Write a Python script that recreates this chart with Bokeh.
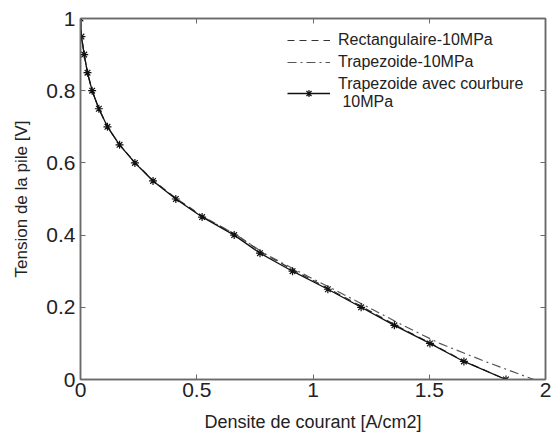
import math
from bokeh.plotting import figure
from bokeh.models import Range1d, LinearAxis, FixedTicker, Legend, LegendItem
from bokeh.embed import file_html
from bokeh.resources import INLINE

# ---- data ----
V_levels = [1.0, 0.95, 0.9, 0.85, 0.8, 0.75, 0.7, 0.65, 0.6, 0.55, 0.5,
            0.45, 0.4, 0.35, 0.3, 0.25, 0.2, 0.15, 0.1, 0.05, 0.0]
J_rect = [0.0, 0.004, 0.016, 0.03, 0.05, 0.079, 0.116, 0.168, 0.236, 0.315, 0.415,
          0.53, 0.672, 0.785, 0.925, 1.072, 1.215, 1.357, 1.507, 1.652, 1.83]
J_trap = [0.0, 0.004, 0.016, 0.03, 0.05, 0.079, 0.116, 0.168, 0.235, 0.313, 0.412,
          0.527, 0.672, 0.788, 0.935, 1.088, 1.238, 1.387, 1.545, 1.74, 1.95]
J_curv = [0.0, 0.004, 0.016, 0.03, 0.05, 0.079, 0.116, 0.168, 0.234, 0.312, 0.41,
          0.523, 0.661, 0.772, 0.912, 1.064, 1.207, 1.35, 1.503, 1.649, 1.83]

x_ticks = [0, 0.5, 1, 1.5, 2]
x_tick_labels = ["0", "0.5", "1", "1.5", "2"]
y_ticks = [0, 0.2, 0.4, 0.6, 0.8, 1]
y_tick_labels = ["0", "0.2", "0.4", "0.6", "0.8", "1"]

series_names = ["Rectangulaire-10MPa", "Trapezoide-10MPa",
                "Trapezoide avec courbure\n 10MPa"]
x_title = "Densite de courant [A/cm2]"
y_title = "Tension de la pile [V]"

FONT = "Liberation Sans"
TXT = "#222222"
FRAME = "#6a6a6a"

p = figure(width=553, height=437, output_backend="svg", toolbar_location=None,
           x_range=Range1d(0, 2), y_range=Range1d(0, 1),
           min_border_left=80, min_border_right=8, min_border_top=18,
           min_border_bottom=58, background_fill_color="white",
           border_fill_color="white")
p.grid.visible = False
p.outline_line_color = FRAME
p.outline_line_width = 1.5

r_rect = p.line(J_rect, V_levels, line_color="#333333", line_width=1.2,
                line_dash="7 5")
r_trap = p.line(J_trap, V_levels, line_color="#555555", line_width=1.2,
                line_dash="9 4 2 4")
r_curv = p.line(J_curv, V_levels, line_color="#111111", line_width=1.3)
r_star = p.scatter(J_curv, V_levels, marker="asterisk", size=8,
                   line_color="#111111", line_width=1.2)

def style_axis(ax, ticks, labels, show_labels=True):
    ax.ticker = FixedTicker(ticks=ticks)
    ax.minor_tick_line_color = None
    ax.major_tick_in = 5
    ax.major_tick_out = 0
    ax.major_tick_line_color = FRAME
    ax.axis_line_color = FRAME
    ax.axis_line_width = 1.5
    if show_labels:
        ax.major_label_overrides = {t: l for t, l in zip(ticks, labels)}
        ax.major_label_text_font = FONT
        ax.major_label_text_font_size = "21px"
        ax.major_label_text_color = TXT
    else:
        ax.major_label_overrides = {t: "" for t in ticks}
        ax.major_label_text_font_size = "1px"
        ax.major_label_standoff = 0

style_axis(p.xaxis[0], x_ticks, x_tick_labels)
p.xaxis[0].major_label_standoff = 3
p.xaxis[0].axis_label = x_title
p.xaxis[0].axis_label_text_font = FONT
p.xaxis[0].axis_label_text_font_size = "18px"
p.xaxis[0].axis_label_text_font_style = "normal"
p.xaxis[0].axis_label_text_color = TXT
p.xaxis[0].axis_label_standoff = 12

style_axis(p.yaxis[0], y_ticks, y_tick_labels)
p.yaxis[0].major_label_standoff = 5
p.yaxis[0].axis_label = y_title
p.yaxis[0].axis_label_text_font = FONT
p.yaxis[0].axis_label_text_font_size = "17px"
p.yaxis[0].axis_label_text_font_style = "normal"
p.yaxis[0].axis_label_text_color = TXT
p.yaxis[0].axis_label_standoff = 12

top_ax = LinearAxis()
right_ax = LinearAxis()
style_axis(top_ax, x_ticks, x_tick_labels, show_labels=False)
style_axis(right_ax, y_ticks, y_tick_labels, show_labels=False)
p.add_layout(top_ax, "above")
p.add_layout(right_ax, "right")

legend = Legend(items=[
    LegendItem(label=series_names[0], renderers=[r_rect]),
    LegendItem(label=series_names[1], renderers=[r_trap]),
    LegendItem(label=series_names[2], renderers=[r_curv, r_star]),
], location=(207, 268))
legend.border_line_color = None
legend.background_fill_alpha = 0
legend.label_text_font = FONT
legend.label_text_font_size = "16px"
legend.label_text_color = TXT
legend.glyph_width = 43
legend.glyph_height = 18
legend.label_height = 18
legend.label_standoff = 8
legend.spacing = 4
legend.padding = 0
legend.margin = 0
p.add_layout(legend)

open("out.html", "w").write(file_html(p, INLINE))
